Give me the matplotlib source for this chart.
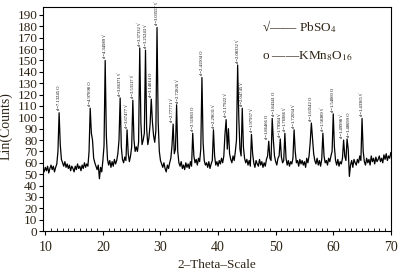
import matplotlib
matplotlib.use("Agg")
import matplotlib.pyplot as plt
import numpy as np

plt.rcParams['font.family'] = ['Liberation Serif', 'DejaVu Serif']
plt.rcParams['mathtext.fontset'] = 'stix'

# XRD intensity, 0.2 deg steps starting at 9.6 deg
counts = [55, 52,
          56, 53, 57, 51, 55,   # 10
          58, 54, 57, 52, 56,   # 11
          59, 70, 104, 76, 63,  # 12
          60, 57, 61, 56, 59,   # 13
          55, 58, 53, 57, 55,   # 14
          52, 57, 54, 59, 55,   # 15
          57, 53, 58, 55, 60,   # 16
          56, 59, 57, 70, 108,  # 17
          86, 80, 64, 60, 57,   # 18
          54, 58, 46, 56, 52,   # 19
          62, 75, 150, 84, 63,  # 20
          58, 62, 56, 61, 57,   # 21
          63, 59, 62, 68, 80,   # 22
          117, 74, 63, 60, 65,  # 23
          62, 89, 68, 61, 66,   # 24
          74, 115, 80, 70, 74,  # 25
          70, 78, 161, 95, 76,  # 26
          80, 86, 159, 90, 76,  # 27
          82, 94, 116, 96, 84,  # 28
          78, 88, 179, 96, 70,  # 29
          62, 59, 56, 60, 55,   # 30
          52, 58, 55, 60, 64,   # 31
          75, 94, 68, 72, 111,  # 32
          70, 60, 57, 61, 55,   # 33
          58, 54, 60, 56, 59,   # 34
          55, 61, 57, 86, 66,   # 35
          60, 63, 58, 64, 61,   # 36
          72, 135, 78, 62, 58,  # 37
          60, 56, 61, 55, 59,   # 38
          62, 89, 66, 58, 61,   # 39
          57, 62, 59, 64, 60,   # 40
          66, 85, 98, 72, 90,   # 41
          68, 63, 60, 66, 62,   # 42
          70, 80, 146, 100, 72, # 43
          66, 108, 74, 64, 60,  # 44
          63, 58, 62, 57, 85,   # 45
          68, 60, 56, 62, 59,   # 46
          57, 63, 58, 61, 56,   # 47
          60, 57, 63, 66, 79,   # 48
          64, 62, 99, 80, 66,   # 49
          61, 58, 64, 66, 81,   # 50
          65, 60, 62, 86, 64,   # 51
          58, 62, 57, 61, 59,   # 52
          64, 89, 70, 60, 62,   # 53
          57, 63, 59, 62, 58,   # 54
          61, 56, 64, 60, 66,   # 55
          78, 95, 82, 68, 62,   # 56
          59, 64, 58, 62, 57,   # 57
          63, 86, 66, 60, 62,   # 58
          58, 64, 61, 66, 70,   # 59
          103, 74, 62, 58, 63,  # 60
          57, 61, 59, 64, 80,   # 61
          66, 62, 81, 72, 48,   # 62
          58, 62, 56, 63, 60,   # 63
          58, 63, 60, 66, 62,   # 64
          99, 70, 61, 58, 64,   # 65
          60, 63, 58, 66, 61,   # 66
          64, 59, 65, 61, 63,   # 67
          66, 61, 64, 60, 67,   # 68
          63, 68, 62, 66, 64,   # 69
          69]
two_theta = np.round(9.6 + 0.2 * np.arange(len(counts)), 1)

# identified peaks: position and phase (v = PbSO4, o = KMn8O16)
peak_pos = [12.4, 17.8, 20.4, 23.0, 24.2, 25.2, 26.4, 27.4, 28.4, 29.4,
            32.2, 32.8, 35.6, 37.2, 39.2, 41.4, 43.4, 44.2, 45.8, 48.8,
            49.4, 50.8, 51.6, 53.2, 56.2, 58.2, 60.0, 61.8, 62.4, 65.0]
peak_phase = ['o', 'o', 'v', 'v', 'v', 'v', 'v', 'v', 'o', 'v',
              'v', 'v', 'o', 'o', 'v', 'v', 'v', 'v', 'v', 'o',
              'o', 'v', 'v', 'v', 'o', 'v', 'o', 'v', 'o', 'v']

txt_col = '#2e2416'

fig = plt.figure(figsize=(3.98, 2.70), dpi=100)
ax = fig.add_axes([0.108, 0.1444, 0.874, 0.8296])

ax.plot(two_theta, counts, color='black', linewidth=0.9)

for k, (p, ph) in enumerate(zip(peak_pos, peak_phase)):
    i = int(np.argmin(np.abs(two_theta - p)))
    d = 1.5406 / (2 * np.sin(np.radians(p / 2)))
    sym = '√' if ph == 'v' else 'O'
    # nudge labels of close neighbours apart
    dx = 0
    if k + 1 < len(peak_pos) and peak_pos[k + 1] - p < 0.7:
        dx = -0.25
    if k > 0 and p - peak_pos[k - 1] < 0.7:
        dx = 0.25
    ax.text(p + dx, counts[i] + 2, 'd=%.5f ' % d + sym, rotation=90,
            fontsize=3.3, ha='center', va='bottom', color='black',
            clip_on=False)

ax.set_xlim(9.6, 70)
ax.set_ylim(0, 197)
ax.set_xticks(np.arange(10, 71, 10))
ax.set_xticks(np.arange(10, 71, 1), minor=True)
ax.set_yticks(np.arange(0, 191, 10))
ax.tick_params(axis='both', which='major', labelsize=9.5, labelcolor=txt_col,
               length=3, width=0.8, pad=1)
ax.tick_params(axis='x', which='major', labelsize=10, pad=4)
ax.tick_params(axis='x', which='minor', direction='in', length=2, width=0.6)
for s in ax.spines.values():
    s.set_linewidth(0.8)

ax.set_xlabel('2–Theta–Scale', fontsize=9.5, color=txt_col, labelpad=4)
ax.set_ylabel('Lin(Counts)', fontsize=10, color=txt_col)
ax.yaxis.set_label_coords(-0.088, 0.47)

ax.text(0.629, 0.911, '√—— PbSO$_4$', transform=ax.transAxes,
        fontsize=9.5, color=txt_col, va='center', ha='left')
ax.text(0.629, 0.781, 'o ——KMn$_8$O$_{16}$', transform=ax.transAxes,
        fontsize=9.5, color=txt_col, va='center', ha='left')

fig.savefig('out.png', dpi=100)
